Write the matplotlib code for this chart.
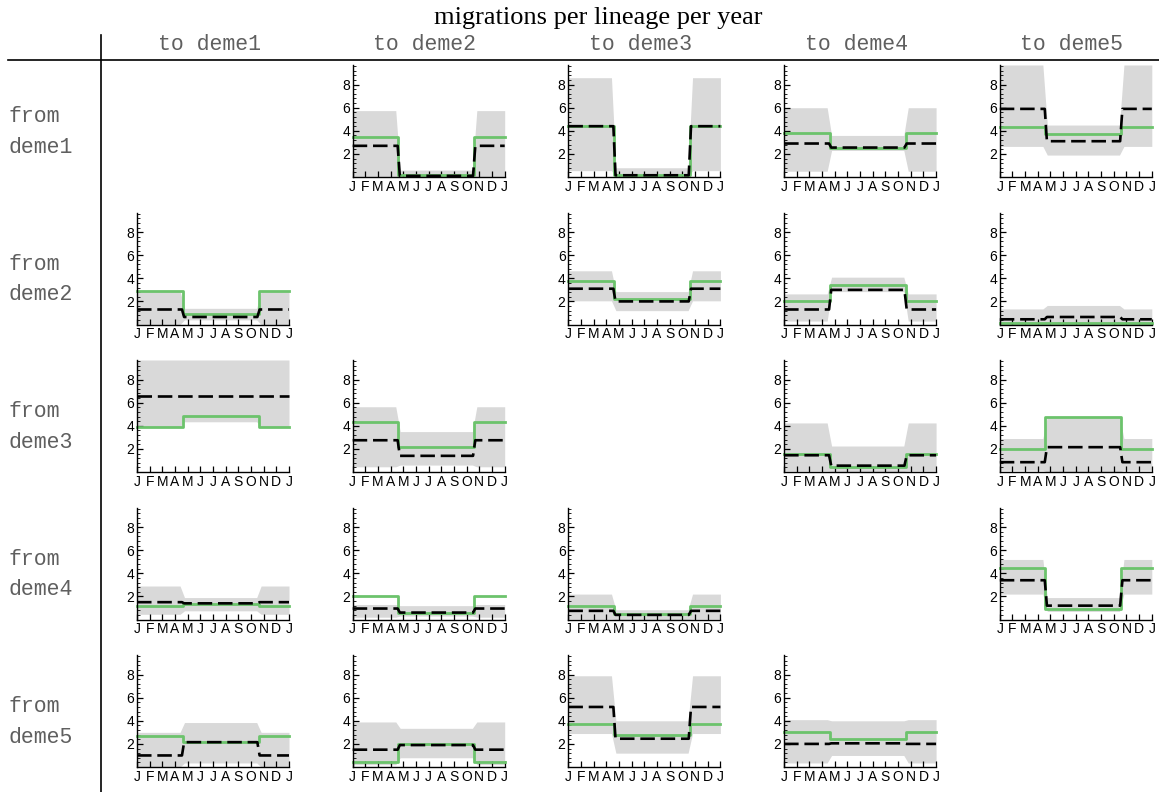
import numpy as np
import matplotlib.pyplot as plt
from matplotlib.ticker import MultipleLocator

# migration rate per (source, destination) pair; "out" = Jan-Apr & Nov-Dec, "in" = May-Oct
pairs = [(1, 2), (1, 3), (1, 4), (1, 5),
         (2, 1), (2, 3), (2, 4), (2, 5),
         (3, 1), (3, 2), (3, 4), (3, 5),
         (4, 1), (4, 2), (4, 3), (4, 5),
         (5, 1), (5, 2), (5, 3), (5, 4)]
true_out = [3.5, 4.4, 3.8, 4.3, 2.9, 3.75, 2.0, 0.1, 3.9, 4.35, 1.6, 2.0,
            1.2, 2.0, 1.15, 4.5, 2.7, 0.4, 3.7, 3.05]
true_in = [0.15, 0.2, 2.5, 3.7, 0.9, 2.2, 3.4, 0.1, 4.85, 2.2, 0.45, 4.8,
           1.35, 0.6, 0.45, 0.9, 2.2, 2.0, 2.8, 2.45]
est_out = [2.7, 4.4, 2.9, 5.9, 1.3, 3.1, 1.3, 0.45, 6.6, 2.75, 1.45, 0.85,
           1.5, 0.95, 0.75, 3.4, 1.0, 1.5, 5.2, 2.0]
est_in = [0.1, 0.15, 2.55, 3.1, 0.65, 2.0, 3.0, 0.65, 6.6, 1.4, 0.55, 2.15,
          1.4, 0.6, 0.4, 1.2, 2.15, 1.9, 2.45, 2.05]
lo_out = [0.05, 0.55, 0.5, 2.65, 0.0, 2.05, 0.3, 0.0, 3.9, 0.45, 0.1, 0.15,
          0.45, 0.2, 0.05, 2.2, 0.0, 0.2, 2.9, 0.35]
hi_out = [5.75, 8.6, 6.0, 9.7, 2.9, 4.65, 2.65, 1.35, 9.7, 5.65, 4.25, 2.9,
          2.9, 1.3, 2.2, 5.2, 3.0, 3.9, 7.9, 4.1]
lo_in = [0.0, 0.0, 2.3, 1.9, 0.4, 1.2, 2.85, 0.0, 4.35, 0.6, 0.05, 0.0,
         0.75, 0.3, 0.0, 0.7, 0.35, 0.8, 1.2, 1.0]
hi_in = [0.6, 0.8, 3.6, 4.5, 1.4, 2.85, 4.1, 1.65, 9.7, 3.5, 2.25, 4.8,
         1.9, 1.2, 0.85, 1.9, 3.85, 3.35, 4.0, 4.0]

months = ["J", "F", "M", "A", "M", "J", "J", "A", "S", "O", "N", "D", "J"]
demes = ["deme1", "deme2", "deme3", "deme4", "deme5"]

W, H = 1159, 792
fig = plt.figure(figsize=(W / 100, H / 100), dpi=100)

# season switch points (in months)
t1, t2 = 3.6, 9.6
x_step = [0, t1, t1, t2, t2, 12]
x_band = [0, 3.4, 3.75, 9.45, 9.8, 12]
x_est = [0, 3.55, 3.72, 9.5, 9.68, 12]

green = "#6cc36c"
band = "#d9d9d9"
label_col = "#5f5f5f"

ax_w, ax_h = 152, 112
col_left = [137 + 215.7 * j for j in range(5)]
row_axis = [177 + 147.5 * i for i in range(5)]


def season(out_v, in_v):
    return [out_v, out_v, in_v, in_v, out_v, out_v]


for k, (src, dst) in enumerate(pairs):
    i, j = src - 1, dst - 1
    ax = fig.add_axes([col_left[j] / W, 1 - row_axis[i] / H, ax_w / W, ax_h / H])
    ax.fill_between(x_band, season(lo_out[k], lo_in[k]), season(hi_out[k], hi_in[k]),
                    color=band, lw=0, zorder=1)
    ax.plot(x_step, season(true_out[k], true_in[k]), color=green, lw=2.0, zorder=2,
            clip_on=False)
    ax.plot(x_est, season(est_out[k], est_in[k]), color="black", lw=1.9,
            linestyle=(0, (5.5, 2.2)), zorder=3, clip_on=False)
    ax.set_xlim(0, 12)
    ax.set_ylim(0, 9.7)
    for s in ["top", "right"]:
        ax.spines[s].set_visible(False)
    for s in ["left", "bottom"]:
        ax.spines[s].set_linewidth(1.0)
    ax.set_xticks(range(13))
    ax.set_xticklabels(months, fontsize=10, family="Liberation Sans")
    ax.set_yticks([2, 4, 6, 8])
    ax.set_yticklabels(["2", "4", "6", "8"], fontsize=10, family="Liberation Sans")
    ax.yaxis.set_minor_locator(MultipleLocator(0.4))
    ax.tick_params(axis="both", which="major", direction="in", length=4, width=0.9, pad=2)
    ax.tick_params(axis="y", which="minor", direction="in", length=2, width=0.6)
    ax.set_facecolor("none")

# table frame
fig.add_artist(plt.Line2D([8 / W, 1], [1 - 60 / H, 1 - 60 / H], color="black", lw=1.2))
fig.add_artist(plt.Line2D([101 / W, 101 / W], [1 - 35 / H, 0], color="black", lw=1.2))

for j, d in enumerate(demes):
    fig.text((col_left[j] + ax_w / 2 - 4) / W, 1 - 45 / H, "to " + d, ha="center", va="center",
             fontsize=15.5, family="Liberation Mono", color=label_col)
    fig.text(9 / W, 1 - (132 + 147.5 * j) / H, "from\n" + d, ha="left", va="center",
             fontsize=15.5, family="Liberation Mono", color=label_col, linespacing=1.6)

fig.text(598 / W, 1 - 18 / H, "migrations per lineage per year", ha="center", va="center",
         fontsize=19, family="Liberation Serif")

fig.savefig("out.png", dpi=100)
